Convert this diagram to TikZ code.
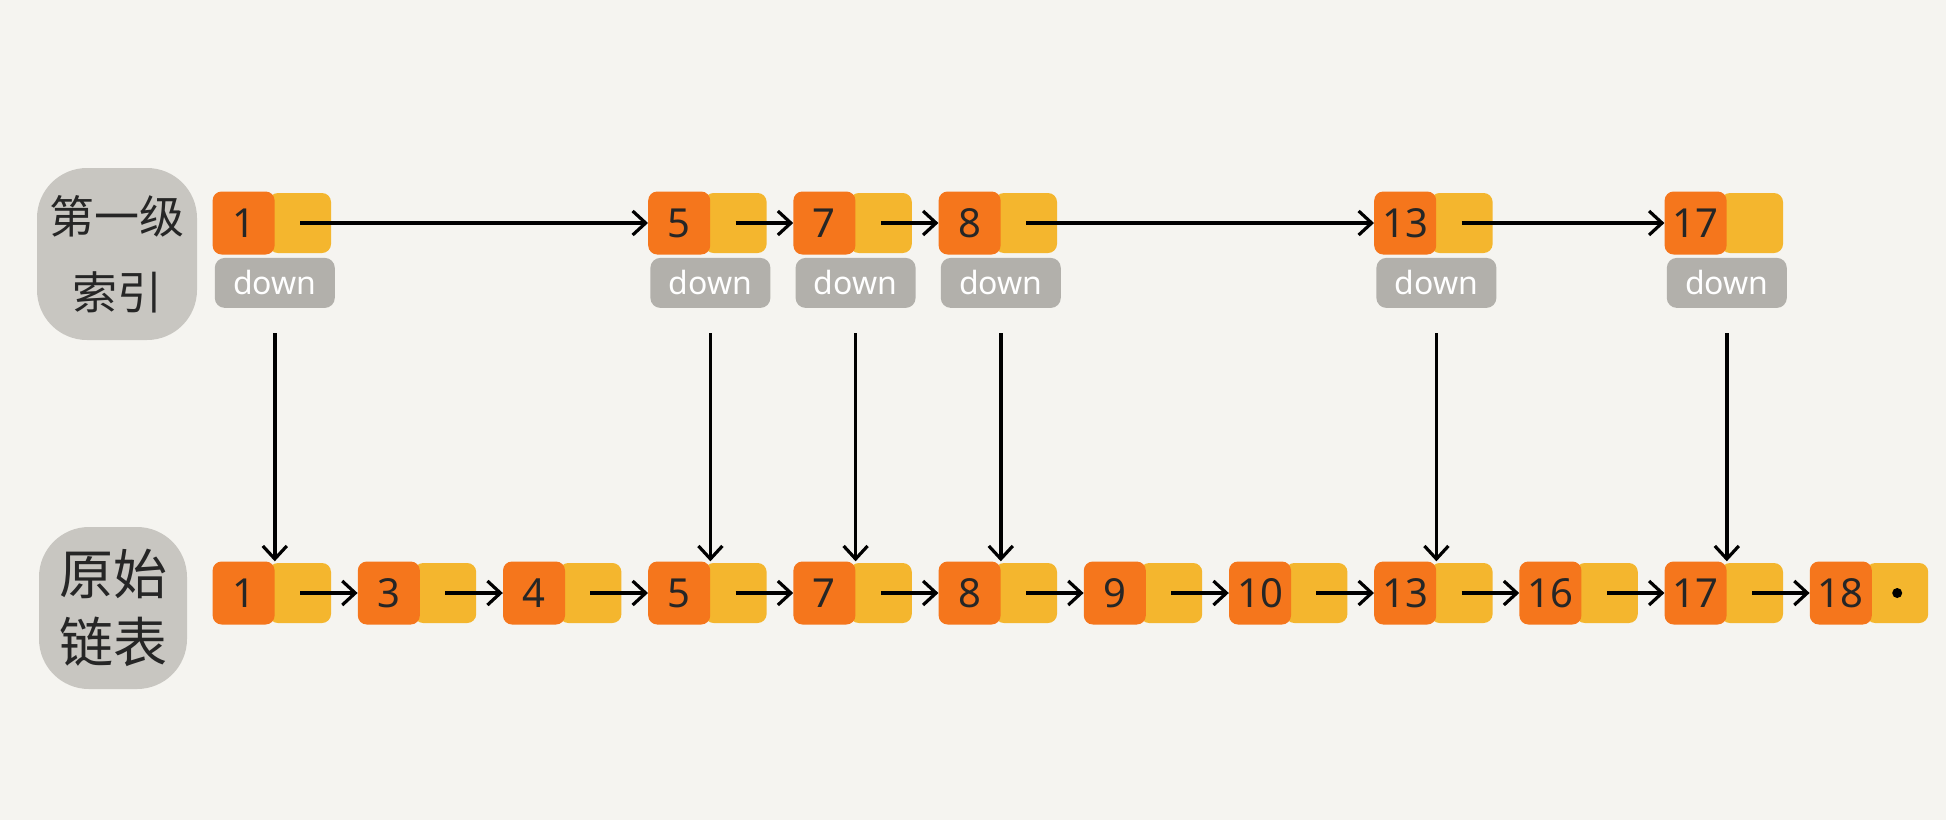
\documentclass[tikz,border=0pt]{standalone}
\usepackage{fontspec}
\setmainfont{Noto Sans}
\newfontfamily\cjkfont{Noto Sans CJK SC}
\usetikzlibrary{positioning,arrows.meta}
\definecolor{keyorange}{RGB}{245,118,28}
\definecolor{nextyellow}{RGB}{244,182,46}
\definecolor{downgray}{RGB}{178,176,171}
\definecolor{taggray}{RGB}{200,198,193}
\definecolor{paper}{RGB}{245,244,240}
\tikzset{
  keybox/.style={fill=keyorange, rounded corners=9pt, minimum width=62pt, minimum height=63pt,
    inner sep=0pt, text=black!85, font=\fontsize{40}{40}\selectfont},
  nextbox/.style={fill=nextyellow, rounded corners=9pt, minimum width=62pt, minimum height=60pt, inner sep=0pt},
  downbox/.style={fill=downgray, rounded corners=10pt, minimum width=120pt, minimum height=50pt,
    inner sep=0pt, text=white, font=\fontsize{32}{32}\selectfont},
  levelbox/.style={fill=taggray, rounded corners=50pt, inner sep=0pt, align=center, text=black!85},
  link/.style={-{Straight Barb[length=13pt,width=24pt,line width=3.2pt]}, line width=3.4pt},
}
\begin{document}
\begin{tikzpicture}[x=1pt,y=-1pt]
\fill[paper] (0,0) rectangle (1946,820);

% labels
\node[levelbox, minimum width=160pt, minimum height=172pt, font=\cjkfont\fontsize{45}{76}\selectfont]
  (level) at (117,254) {第一级\\索引};
\node[levelbox, minimum width=148pt, minimum height=162pt, font=\cjkfont\fontsize{54}{68}\selectfont]
  (raw) at (113,608) {原始\\链表};

% original list
\foreach \k [count=\i from 0] in {1,3,4,5,7,8,9,10,13,16,17,18}
{
  \node[nextbox] (bn\k) at (300+145.2*\i,593) {};
  \node[keybox, left=-6pt of bn\k] (bk\k) {\k};
}
\fill[black] (bn18.center) circle (5pt);
\foreach \a/\b in {1/3,3/4,4/5,5/7,7/8,8/9,9/10,10/13,13/16,16/17,17/18}
  \draw[link] (bn\a.center) -- (bk\b.west);

% first level index
\foreach \k/\i in {1/0,5/3,7/4,8/5,13/8,17/10}
{
  \node[nextbox] (tn\k) at (300+145.2*\i,223) {};
  \node[keybox, left=-6pt of tn\k] (tk\k) {\k};
  \node[downbox, below=3pt of tk\k.south east] (td\k) {down};
  \draw[link] ([yshift=-25pt]td\k.south) -- (bk\k.north east);
}
\foreach \a/\b in {1/5,5/7,7/8,8/13,13/17}
  \draw[link] (tn\a.center) -- (tk\b.west);
\end{tikzpicture}
\end{document}
